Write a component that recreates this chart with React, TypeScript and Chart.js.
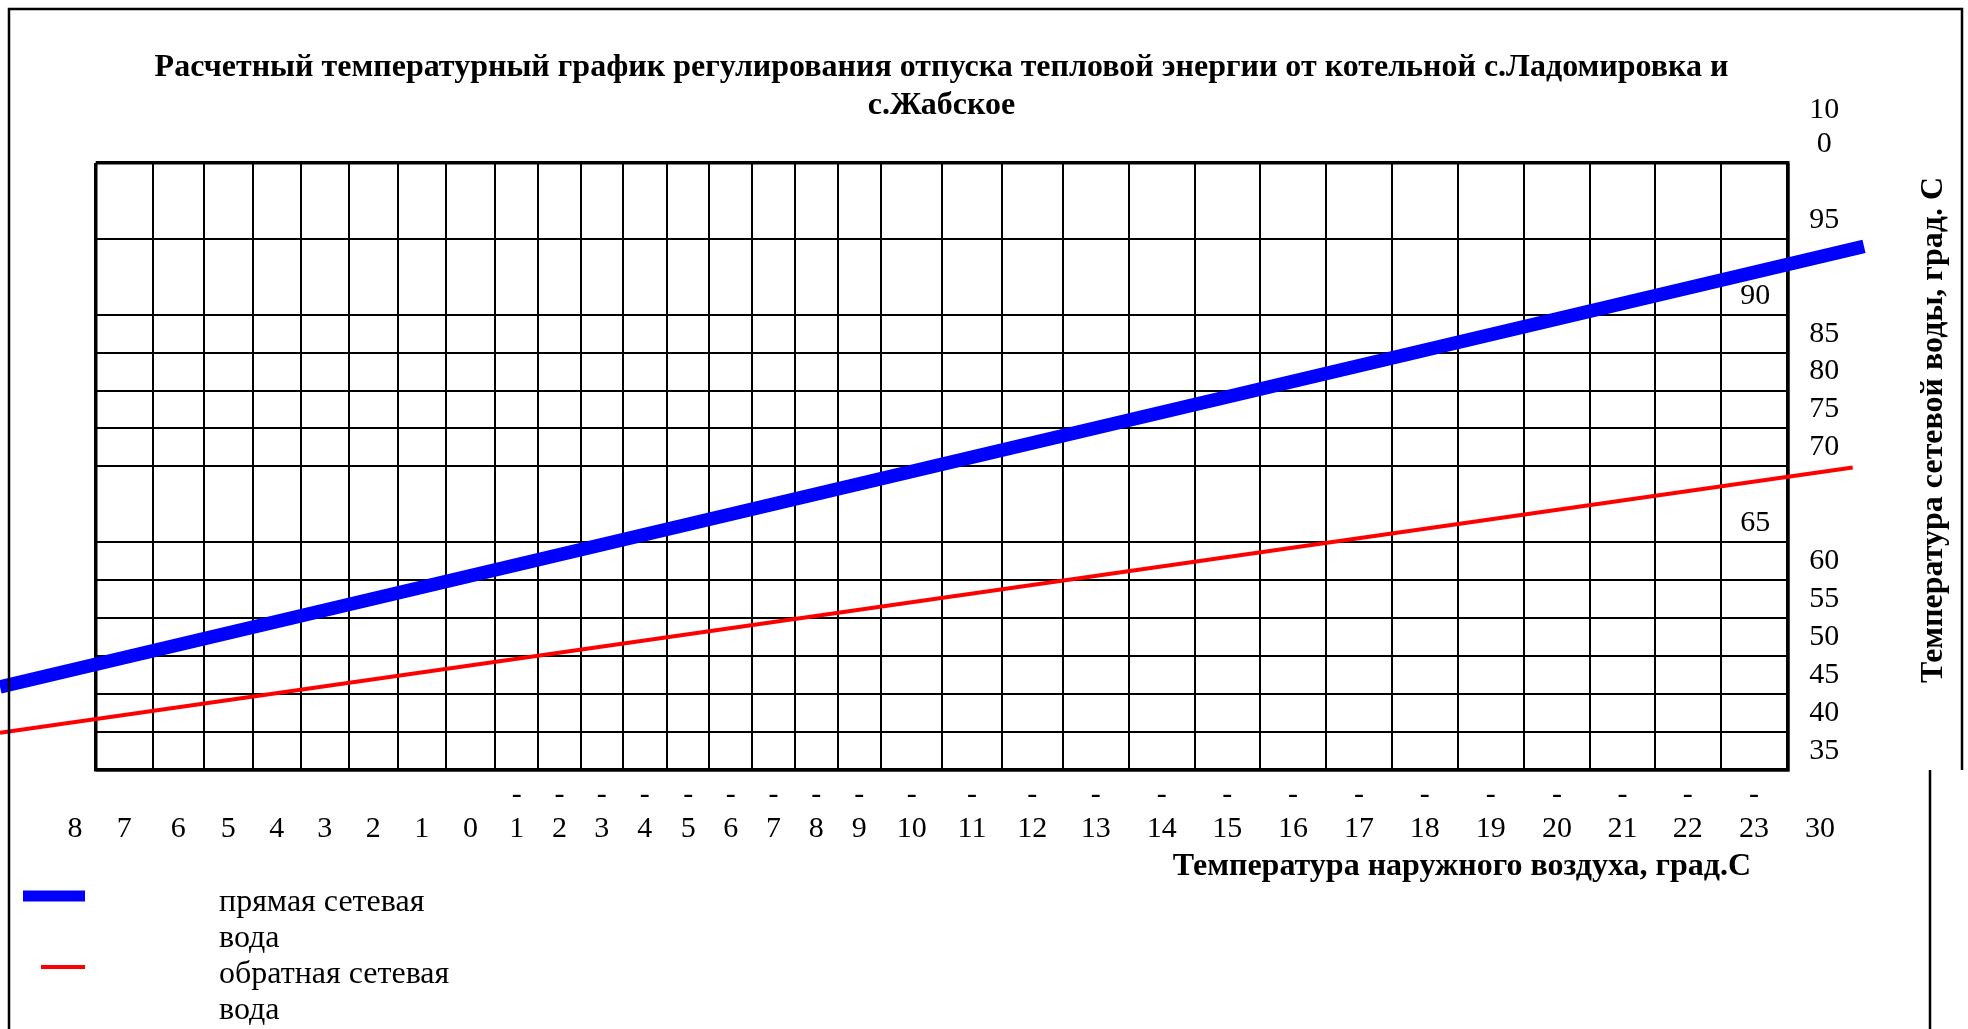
import React, { useEffect, useRef } from 'react';
import { Chart, registerables } from 'chart.js';

Chart.register(...registerables);

const SERIF = "'Liberation Serif', 'Times New Roman', serif";

const chartTitle = [
  'Расчетный температурный график регулирования отпуска тепловой энергии от котельной с.Ладомировка и',
  'с.Жабское',
];
const xAxisTitle = 'Температура наружного воздуха, град.С';
const yAxisTitle = 'Температура сетевой воды, град. С';
const seriesNames = [
  ['прямая сетевая', 'вода'],
  ['обратная сетевая', 'вода'],
];

// outdoor temperature categories (as printed on the axis)
const outdoorTempLabels = [
  '8', '7', '6', '5', '4', '3', '2', '1', '0',
  '-1', '-2', '-3', '-4', '-5', '-6', '-7', '-8', '-9', '-10', '-11', '-12',
  '-13', '-14', '-15', '-16', '-17', '-18', '-19', '-20', '-21', '-22', '-23', '30',
];
// column boundaries of the outdoor-temperature axis (axis units)
const outdoorColumnEdges = [
  54.3, 95.7, 152.7, 204, 252.7, 300.7, 349, 397.7, 446, 495, 538.3, 580.7, 622.7,
  667, 709.3, 752, 795, 837.7, 881, 942.3, 1001.7, 1062.7, 1129, 1194.7, 1260, 1326,
  1392, 1457.7, 1524, 1590, 1655, 1720.7, 1787.3, 1852.7,
];

// water temperature categories and their band boundaries (band units)
const waterTempLabels = [35, 40, 45, 50, 55, 60, 65, 70, 75, 80, 85, 90, 95, 100];
const waterBandEdges = [0, 1, 2, 3, 4, 5, 6, 8, 9, 10, 11, 12, 14, 16];
const innerWaterLabels = [65, 90];

// series (x in outdoor-axis units, y in band units)
const supplyWater = [
  { x: 0, y: 2.19 },
  { x: 1864, y: 13.8 },
];
const returnWater = [
  { x: 0, y: 0.98 },
  { x: 1852.7, y: 7.97 },
];

const X_MIN = outdoorColumnEdges[1];
const X_MAX = outdoorColumnEdges[outdoorColumnEdges.length - 2];
const Y_MIN = waterBandEdges[0];
const Y_MAX = waterBandEdges[waterBandEdges.length - 1];

const xCenters = outdoorTempLabels.map((_, i) => (outdoorColumnEdges[i] + outdoorColumnEdges[i + 1]) / 2);
const xLabelLines = outdoorTempLabels.map((l) => (l.startsWith('-') ? ['-', l.slice(1)] : ['', l]));

const waterTicks = waterTempLabels.map((t, i) => ({
  value: waterBandEdges[i] + 0.5,
  lines: String(t).length > 2 ? [String(t).slice(0, 2), String(t).slice(2), ''] : [String(t)],
  inner: innerWaterLabels.includes(t),
}));
const outerWater = waterTicks.filter((t) => !t.inner);
const innerWater = waterTicks.filter((t) => t.inner);

const tickFont = { family: SERIF, size: 30, lineHeight: 1.13 };

const zeroPad = (s: any) => {
  s.paddingLeft = 0;
  s.paddingRight = 0;
  s.paddingTop = 0;
  s.paddingBottom = 0;
};

const edgeWidth = (min: number, max: number) => (ctx: any) =>
  ctx.tick && (ctx.tick.value === min || ctx.tick.value === max) ? 3.5 : 2;

const decorPlugin = {
  id: 'decor',
  afterDraw(chart: any) {
    const ctx = chart.ctx as CanvasRenderingContext2D;
    ctx.save();
    // page frame
    ctx.strokeStyle = '#000';
    ctx.lineWidth = 2.5;
    ctx.beginPath();
    ctx.moveTo(9, 1029);
    ctx.lineTo(9, 9);
    ctx.lineTo(1962, 9);
    ctx.lineTo(1962, 770);
    ctx.moveTo(1930, 770);
    ctx.lineTo(1930, 1029);
    ctx.stroke();

    // axis titles
    ctx.fillStyle = '#000';
    ctx.font = `bold 32px ${SERIF}`;
    ctx.textBaseline = 'middle';
    ctx.textAlign = 'center';
    ctx.fillText(xAxisTitle, 1462, 867);
    ctx.save();
    ctx.translate(1934, 430);
    ctx.rotate(-Math.PI / 2);
    ctx.fillText(yAxisTitle, 0, 0);
    ctx.restore();

    // legend
    const swatchY = [896, 967];
    const swatchX0 = [23, 41];
    const swatchW = [11, 4];
    const textY = [903, 975];
    chart.data.datasets.forEach((ds: any, i: number) => {
      ctx.strokeStyle = ds.borderColor;
      ctx.lineWidth = swatchW[i];
      ctx.lineCap = 'butt';
      ctx.beginPath();
      ctx.moveTo(swatchX0[i], swatchY[i]);
      ctx.lineTo(85, swatchY[i]);
      ctx.stroke();
      ctx.font = `32px ${SERIF}`;
      ctx.textAlign = 'left';
      ctx.fillStyle = '#000';
      seriesNames[i].forEach((line, j) => ctx.fillText(line, 219, textY[i] + j * 36));
    });
    ctx.restore();
  },
};

export default function App() {
  const ref = useRef<HTMLCanvasElement>(null);
  useEffect(() => {
    const canvas = ref.current!;
    const chart = new Chart(canvas, {
      type: 'line',
      data: {
        datasets: [
          {
            label: seriesNames[0].join(' '),
            data: supplyWater,
            borderColor: '#0000ff',
            backgroundColor: '#0000ff',
            borderWidth: 13.5,
            pointRadius: 0,
            clip: false as any,
            xAxisID: 'x',
            yAxisID: 'y',
          },
          {
            label: seriesNames[1].join(' '),
            data: returnWater,
            borderColor: '#ff0000',
            backgroundColor: '#ff0000',
            borderWidth: 4,
            pointRadius: 0,
            clip: false as any,
            xAxisID: 'x',
            yAxisID: 'y',
          },
        ],
      },
      options: {
        responsive: false,
        animation: false,
        events: [],
        layout: { padding: { left: X_MIN, right: 1968 - X_MAX - 80, top: 0, bottom: 1029 - 770 - 100 } },
        plugins: {
          legend: { display: false },
          tooltip: { enabled: false },
          title: {
            display: true,
            text: chartTitle,
            fullSize: false,
            color: '#000',
            font: { family: SERIF, size: 32, weight: 'bold', lineHeight: 1.17 },
            padding: { top: 49.5, bottom: 38.5 },
          },
        },
        scales: {
          x: {
            type: 'linear',
            position: 'bottom',
            weight: 0,
            min: X_MIN,
            max: X_MAX,
            afterBuildTicks: (s: any) => {
              s.ticks = outdoorColumnEdges.slice(1, -1).map((v) => ({ value: v }));
            },
            ticks: { display: false },
            grid: { color: '#000', lineWidth: edgeWidth(X_MIN, X_MAX), drawTicks: false },
            border: { display: true, color: '#000', width: 3.5 },
            afterFit: (s: any) => {
              zeroPad(s);
              s.height = 0;
            },
          },
          xLabels: {
            type: 'linear',
            position: 'bottom',
            weight: 1,
            min: X_MIN,
            max: X_MAX,
            afterBuildTicks: (s: any) => {
              s.ticks = xCenters.map((v) => ({ value: v }));
            },
            ticks: {
              autoSkip: false,
              maxRotation: 0,
              minRotation: 0,
              padding: 8,
              color: '#000',
              font: tickFont,
              callback: (_v: any, i: number) => xLabelLines[i],
            },
            grid: { display: false, drawTicks: false },
            border: { display: false },
            afterFit: (s: any) => {
              zeroPad(s);
              s.height = 100;
            },
          },
          y: {
            type: 'linear',
            position: 'right',
            weight: 0,
            min: Y_MIN,
            max: Y_MAX,
            afterBuildTicks: (s: any) => {
              s.ticks = waterBandEdges.map((v) => ({ value: v }));
            },
            ticks: { display: false },
            grid: { color: '#000', lineWidth: edgeWidth(Y_MIN, Y_MAX), drawTicks: false },
            border: { display: true, color: '#000', width: 3.5 },
            afterFit: (s: any) => {
              zeroPad(s);
              s.width = 0;
            },
          },
          yInner: {
            type: 'linear',
            position: 'right',
            weight: 0,
            min: Y_MIN,
            max: Y_MAX,
            afterBuildTicks: (s: any) => {
              s.ticks = innerWater.map((t) => ({ value: t.value }));
            },
            ticks: {
              mirror: true,
              padding: -17,
              color: '#000',
              font: tickFont,
              autoSkip: false,
              callback: (_v: any, i: number) => innerWater[i].lines,
            },
            grid: { display: false, drawTicks: false },
            border: { display: false },
            afterFit: (s: any) => {
              zeroPad(s);
              s.width = 0;
            },
          },
          yLabels: {
            type: 'linear',
            position: 'right',
            weight: 1,
            min: Y_MIN,
            max: Y_MAX,
            afterBuildTicks: (s: any) => {
              s.ticks = outerWater.map((t) => ({ value: t.value }));
            },
            ticks: {
              crossAlign: 'center',
              padding: 22,
              color: '#000',
              font: tickFont,
              autoSkip: false,
              callback: (_v: any, i: number) => outerWater[i].lines,
            },
            grid: { display: false, drawTicks: false },
            border: { display: false },
            afterFit: (s: any) => {
              zeroPad(s);
              s.width = 80;
            },
          },
        },
      } as any,
      plugins: [decorPlugin],
    });
    return () => chart.destroy();
  }, []);
  return (
    <div style={{ position: 'fixed', left: 0, top: 0, width: 1968, height: 1029, background: '#fff' }}>
      <canvas ref={ref} width={1968} height={1029} style={{ display: 'block', width: 1968, height: 1029 }} />
    </div>
  );
}
